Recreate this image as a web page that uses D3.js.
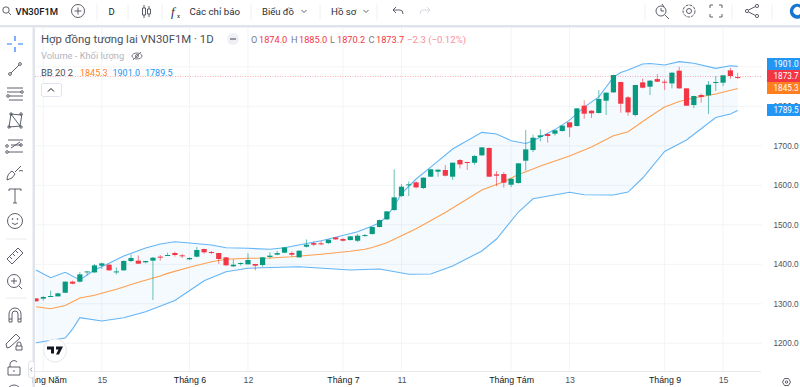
<!DOCTYPE html>
<html>
<head>
<meta charset="utf-8">
<script src="https://cdn.jsdelivr.net/npm/d3@7/dist/d3.min.js"></script>
<style>
  html, body { margin: 0; padding: 0; background: #fff; overflow: hidden; }
  svg { display: block; font-family: Roboto, "Liberation Sans", sans-serif; }
</style>
</head>
<body>
<div id="chart"></div>
<script>
// OHLC, one entry per session
const open = [1313.8,1313,1318,1318.8,1328,1356,1356,1380.4,1379.6,1396.5,1399,1380.4,1384.7,1408.3,1409.2,1405,1409.2,1419.3,1421.9,1428.6,
  1422.7,1412.6,1419.3,1438.7,1431.1,1428.6,1417.6,1394.8,1400.8,1399.9,1400.8,1398.2,1418.5,1424.5,1429.4,1428.5,1417.6,1444.6,1453.8,1453,
  1453.8,1468.2,1464,1461.4,1459.7,1472.4,1476.6,1494.4,1513.8,1537.4,1572.8,1600.7,1607.4,1593.1,1621.8,1634.5,1638.7,1621.8,1664,1659,
  1657.2,1675.8,1694.4,1627.7,1628.6,1601.5,1605.8,1662.3,1689.3,1722.2,1729.8,1730.7,1737.4,1759.4,1750.1,1801.6,1788.9,1783,1814.2,1835.3,
  1861.5,1822.7,1778,1860.6,1849.7,1869,1862.3,1858,1890.2,1845.4,1803.2,1828.6,1827.7,1859.8,1859.8,1891,1874];
const high = [1313.8,1319.7,1333.2,1328.1,1356.8,1358.5,1380.4,1382,1400.7,1404,1400.7,1392.3,1410,1425.2,1422.6,1409,1418.4,1423.5,1429.4,1432,
  1426,1417.6,1443.8,1439.6,1433.7,1428.6,1418.5,1412.6,1405,1427.8,1400.8,1418.5,1430.3,1434,1443.7,1432.7,1435.3,1463,1458,1458.9,
  1463,1469,1466.5,1471.6,1476.6,1476.6,1495.2,1512.8,1534.9,1640.4,1603,1610,1610,1620,1642,1640.4,1651.3,1658,1666.5,1659.8,
  1676.7,1696.9,1696,1636,1633.6,1617.5,1656.4,1740,1728,1741.6,1731.5,1741.6,1751.8,1760.2,1795.6,1815,1789.7,1841.2,1835.3,1880,
  1862.3,1826,1854.7,1870.8,1866.6,1881.7,1868.2,1885.9,1900.3,1846.2,1826.8,1832,1864,1876.7,1879.2,1897,1885];
const low = [1306.2,1307.9,1318,1318.8,1327.3,1349.2,1354.3,1372,1377.9,1388,1383.8,1374.5,1383.8,1405.8,1401.6,1402.4,1309.6,1409.2,1421,1419.3,
  1416,1410.9,1417.6,1426.9,1426,1400.8,1396.5,1393.2,1396.5,1399.9,1384.7,1394,1414.3,1422.6,1428.5,1419.2,1416.7,1442.9,1446.2,1448.8,
  1451.3,1462.3,1458,1460.6,1456.4,1469.9,1475.8,1493.6,1512,1535.7,1570.3,1572.8,1592.3,1590.6,1621,1621.8,1622.6,1613.4,1642.9,1638.7,
  1652.2,1675,1621,1598,1594,1595.6,1604,1637,1684,1711.3,1708,1725.6,1736.6,1722.2,1749.2,1768.6,1770.3,1782.2,1778,1834.5,
  1783.8,1776.2,1774.6,1845.4,1828.6,1861.5,1841.2,1845.4,1844.6,1800.8,1795.6,1809,1780.5,1838.7,1851.3,1869.9,1870.2];
const close = [1306.2,1317.2,1319.7,1326.4,1356,1351,1374.5,1382,1397.3,1402.4,1384.7,1382,1408.3,1415.9,1401.6,1408.3,1416.7,1417.6,1423.5,1423.5,
  1420.2,1416,1436.2,1430.3,1428.6,1413.4,1397.4,1399,1403.3,1410.9,1396.5,1417.6,1421.9,1428.5,1442.9,1424.3,1434.4,1449.6,1449.6,1451.3,
  1462.3,1463.1,1459.7,1470.7,1472.4,1474,1494.4,1512,1534,1569.5,1596.5,1602.4,1594.8,1619.3,1640.4,1639.5,1624.3,1657.2,1653,1657.2,
  1674.1,1696,1621.8,1624.3,1606.6,1616.7,1655.6,1691,1720.5,1726.5,1724.8,1739.1,1751,1746.7,1794.8,1781.3,1782.2,1818.5,1834.5,1879.2,
  1806.6,1784.7,1853.9,1847.1,1864.9,1862.3,1859.8,1885.1,1845.4,1801.6,1826,1823.5,1854.7,1861.5,1878.4,1876.7,1873.7];

// Bollinger bands, sampled where the curve bends: [session, value]
const bbUpper = [[0,1385.6],[2,1366],[4,1379.7],[6,1360.3],[8,1385.6],[10,1402.5],[12,1421],[15,1441.3],[17,1451.4],[19,1457],[21,1454],[24,1449],
  [26,1442],[29,1440.5],[32,1438],[34,1442],[37,1452.7],[39,1459.7],[41,1468.4],[44,1482.5],[46,1497],[47,1505.3],[48,1521.5],[49,1547.6],[50,1579],
  [52,1616],[54,1646],[57,1692],[61,1734],[63,1730],[65,1713],[67,1706],[68,1713],[71,1741],[73,1765],[75,1798],[77,1824],[78,1849],[79,1874],
  [80,1885.6],[81,1892],[83,1907],[84,1908.3],[86,1904.6],[88,1913],[90,1909],[93,1896],[95,1902.8],[96,1901]];
const bbMiddle = [[0,1292.7],[2,1287.6],[4,1295.7],[6,1314.7],[8,1321.5],[11,1336.7],[14,1354.4],[17,1370.4],[18,1377],[21,1392.4],[24,1406.6],[26,1412.7],
  [29,1415.2],[32,1416],[35,1419.2],[39,1425.3],[43,1432.9],[45,1438],[46,1442.5],[48,1454.7],[52,1490],[56,1531],[61,1588],[64,1609],[66,1627.3],[68,1641],
  [69,1649],[73,1674],[76,1697],[79,1725.6],[81,1735.7],[84,1774.2],[86,1798],[88,1812],[90,1821],[93,1831],[96,1845.3]];
const bbLower = [[0,1201.5],[4,1213.4],[5,1236],[6,1265],[9,1256.5],[12,1264.8],[15,1280],[19,1308.4],[23,1358.5],[26,1381.3],[29,1389.9],[32,1392],
  [36,1393.9],[43,1385.6],[47,1388],[51,1374.7],[54,1375.4],[57,1395.7],[61,1433.7],[63,1464],[66,1532.4],[68,1566],[73,1582.3],[75,1576.2],[79,1575.4],
  [81,1583],[83,1618.5],[86,1685.6],[89,1714.7],[93,1771.6],[95,1780.5],[96,1789.5]];

const tickSessions = [1, 9, 21, 29, 42, 50, 65, 73, 86, 94];
const tickLabels = ["Tháng Năm", "15", "Tháng 6", "12", "Tháng 7", "11", "Tháng Tám", "13", "Tháng 9", "15"];
const priceTicks = [1200, 1300, 1400, 1500, 1600, 1700, 1800, 1900];
const lastValues = [1901.0, 1873.7, 1845.3, 1789.5];
const lastColors = ["#2196f3", "#f23645", "#ff7f1e", "#2196f3"];

const W = 800, H = 387;
const plot = {left: 35, right: 762, top: 27, bottom: 371.5};
const up = "#089981", down = "#f23645";
// the labels push each other apart on a real price scale
const tagTops = [58, 70, 82, 104];

const svg = d3.select("#chart").append("svg").attr("width", W).attr("height", H);

const x = d3.scaleLinear().domain([0, 96]).range([36, 737.7]);
const y = d3.scaleLinear().domain([1200, 1873.7]).range([343.3, 77.2]);

svg.append("clipPath").attr("id", "plotClip").append("rect")
  .attr("x", plot.left).attr("y", plot.top)
  .attr("width", plot.right - plot.left).attr("height", plot.bottom - plot.top);

const main = svg.append("g").attr("clip-path", "url(#plotClip)");

// grid
main.append("g").selectAll("line").data(tickSessions).join("line")
  .attr("x1", d => x(d)).attr("x2", d => x(d))
  .attr("y1", plot.top).attr("y2", plot.bottom)
  .attr("stroke", "#f3f4f6");
main.append("g").selectAll("line").data(priceTicks).join("line")
  .attr("x1", plot.left).attr("x2", plot.right)
  .attr("y1", d => y(d)).attr("y2", d => y(d))
  .attr("stroke", "#f3f4f6");

// bands
const line = d3.line().x(d => x(d[0])).y(d => y(d[1]));
main.append("path")
  .attr("d", line(bbUpper.concat(bbLower.slice().reverse())) + "Z")
  .attr("fill", "#2196f3").attr("fill-opacity", 0.05);
main.append("path").attr("d", line(bbUpper)).attr("fill", "none").attr("stroke", "#64b5f6").attr("stroke-width", 1.1);
main.append("path").attr("d", line(bbLower)).attr("fill", "none").attr("stroke", "#64b5f6").attr("stroke-width", 1.1);
main.append("path").attr("d", line(bbMiddle)).attr("fill", "none").attr("stroke", "#ff9f50").attr("stroke-width", 1.1);

// candles
const candles = main.append("g").selectAll("g").data(d3.range(open.length)).join("g");
candles.append("line")
  .attr("x1", i => x(i)).attr("x2", i => x(i))
  .attr("y1", i => y(high[i])).attr("y2", i => y(low[i]))
  .attr("stroke", i => close[i] >= open[i] ? up : down)
  .attr("stroke-opacity", 0.6);
candles.append("rect")
  .attr("x", i => x(i) - 2.6).attr("width", 5.2)
  .attr("y", i => y(Math.max(open[i], close[i])))
  .attr("height", i => Math.max(1, Math.abs(y(open[i]) - y(close[i]))))
  .attr("fill", i => close[i] >= open[i] ? up : down);

// last price line
main.append("line")
  .attr("x1", plot.left).attr("x2", plot.right)
  .attr("y1", 76.5).attr("y2", 76.5)
  .attr("stroke", down).attr("stroke-opacity", 0.4).attr("stroke-dasharray", "1,1.5");

// axes
const xAxis = svg.append("g")
  .attr("transform", `translate(0,${plot.bottom})`)
  .call(d3.axisBottom(x).tickValues(tickSessions).tickSize(0).tickPadding(5)
    .tickFormat((d, i) => tickLabels[i]));
xAxis.select(".domain").attr("stroke", "#e6e8ee").attr("d", "M35,0H761");
xAxis.selectAll("text")
  .style("font-size", "8.8px")
  .style("font-weight", (d, i) => tickLabels[i].startsWith("Tháng") ? 500 : 400)
  .attr("fill", (d, i) => tickLabels[i].startsWith("Tháng") ? "#131722" : "#50535e");

const yAxis = svg.append("g")
  .attr("transform", "translate(773.5,0)")
  .call(d3.axisRight(y).tickValues(priceTicks).tickSize(0).tickPadding(0).tickFormat(d3.format(".1f")));
yAxis.select(".domain").remove();
yAxis.selectAll("text").style("font-size", "8.2px").attr("fill", "#50535e");

// price labels
const tags = svg.append("g").selectAll("g").data(lastValues).join("g")
  .attr("transform", (d, i) => `translate(767,${tagTops[i]})`);
tags.append("rect").attr("width", 33).attr("height", 12).attr("fill", (d, i) => lastColors[i]);
tags.append("text").attr("x", 6.5).attr("y", 9).attr("fill", "#fff").style("font-size", "8.2px")
  .text(d => d.toFixed(1));

// legend
const legend = svg.append("g");
function label(px, py, str, color, size, weight) {
  return legend.append("text").attr("x", px).attr("y", py).attr("fill", color)
    .style("font-size", size + "px").style("font-weight", weight || 400).text(str);
}
label(41, 43, "Hợp đồng tương lai VN30F1M · 1D", "#4a4e59", 11.35);
legend.append("circle").attr("cx", 233).attr("cy", 39).attr("r", 6).attr("fill", "#eff0f3");
legend.append("line").attr("x1", 230).attr("x2", 236).attr("y1", 39).attr("y2", 39).attr("stroke", "#787b86").attr("stroke-width", 1.5);

const ohlcText = [[251, "O", 1], [259, "1874.0", 0], [291, "H", 1], [299, "1885.0", 0], [330, "L", 1], [337, "1870.2", 0], [368.5, "C", 1], [376, "1873.7", 0], [407, "−2.3 (−0.12%)", 0]];
ohlcText.forEach(t => label(t[0], 42.5, t[1], t[2] ? "#787b86" : (t[0] === 407 ? "#f88f99" : "#f23645"), t[0] === 407 ? 9.6 : 9.2));

label(41, 59, "Volume - Khối lượng", "#b2b5be", 9.3);
const eye = legend.append("g").attr("transform", "translate(137,56)").attr("fill", "none").attr("stroke", "#787b86");
eye.append("ellipse").attr("rx", 5).attr("ry", 3);
eye.append("circle").attr("r", 1.5);
eye.append("line").attr("x1", -4).attr("y1", 4).attr("x2", 4).attr("y2", -4);

label(41, 76, "BB 20 2", "#4a4e59", 9.4);
label(80, 76, "1845.3", "#ff7f1e", 9);
label(112.5, 76, "1901.0", "#2196f3", 9);
label(145, 76, "1789.5", "#2196f3", 9);

legend.append("rect").attr("x", 41.5).attr("y", 83.5).attr("width", 20).attr("height", 13).attr("rx", 2)
  .attr("fill", "#fff").attr("stroke", "#e0e3eb");
legend.append("path").attr("d", "M48,91.5l3,-3l3,3").attr("fill", "none").attr("stroke", "#131722");

// TradingView badge
const tv = svg.append("g").attr("transform", "translate(55,350.5)");
tv.append("circle").attr("r", 11.5).attr("fill", "#fff").attr("stroke", "#e6e8ee");
tv.append("path").attr("d", "M-8,-4H-1V3H-4V-1H-8ZM1,-4H8L4,4H1L3.5,-1H1Z").attr("fill", "#131722");

// chrome around the chart
const chrome = svg.append("g");
chrome.append("rect").attr("x", 0).attr("y", 0).attr("width", W).attr("height", 25).attr("fill", "#fff");
chrome.append("rect").attr("x", 0).attr("y", 25).attr("width", W).attr("height", 2.5).attr("fill", "#e0e3eb");
chrome.append("rect").attr("x", 0).attr("y", 27.5).attr("width", 32.5).attr("height", H).attr("fill", "#fff");
chrome.append("rect").attr("x", 32.5).attr("y", 27.5).attr("width", 2.5).attr("height", H).attr("fill", "#e0e3eb");

// top toolbar
const sepX = [97, 128, 162, 251, 320, 377, 645, 732, 772];
chrome.append("g").selectAll("line").data(sepX).join("line")
  .attr("x1", d => d).attr("x2", d => d).attr("y1", 4).attr("y2", 20).attr("stroke", "#eef0f3");

function tool(px, py, str, size, weight, color) {
  return chrome.append("text").attr("x", px).attr("y", py).attr("fill", color || "#131722")
    .style("font-size", size + "px").style("font-weight", weight || 400).text(str);
}
tool(15.5, 14.5, "VN30F1M", 9.5, 500);
tool(108.5, 14.5, "D", 9.5, 400);
tool(171, 15.5, "f", 13, 400, "#2a2e39").style("font-style", "italic").style("font-family", "Liberation Serif, serif");
tool(177, 18, "x", 6, 400);
tool(189.5, 14.5, "Các chỉ báo", 9.7, 400, "#2a2e39");
tool(262, 14.5, "Biểu đồ", 9.5, 400, "#2a2e39");
tool(331, 14.5, "Hồ sơ", 9.7, 400, "#2a2e39");

const stroke = "#4a4e59";
function icon(px, py, build, color) {
  const g = chrome.append("g").attr("transform", `translate(${px},${py})`)
    .attr("fill", "none").attr("stroke", color || stroke).attr("stroke-width", 0.9);
  build(g);
  return g;
}
const P = (g, d) => g.append("path").attr("d", d);
const C = (g, cx, cy, r) => g.append("circle").attr("cx", cx).attr("cy", cy).attr("r", r);

icon(6, 10, g => { C(g, 0, 0, 3.2); P(g, "M2.4,2.4L5,5"); });
icon(78, 11, g => { C(g, 0, 0, 6.5); P(g, "M-3.5,0H3.5M0,-3.5V3.5"); });
icon(146, 11, g => { P(g, "M-3.5,-3h3v7h-3zM1.5,-2h3v5h-3zM-2,-6v3M-2,4v3M3,-5v3M3,3v3"); });
icon(304, 11, g => P(g, "M-2.5,-1l2.5,2.5l2.5,-2.5"));
icon(366, 11, g => P(g, "M-2.5,-1l2.5,2.5l2.5,-2.5"));
icon(398, 11, g => P(g, "M-5,-1H2Q5,-1 5,3M-5,-1l3,-3M-5,-1l3,3"));
icon(425, 11, g => P(g, "M5,-1H-2Q-5,-1 -5,3M5,-1l-3,-3M5,-1l-3,3"), "#d1d4dc");
icon(662, 10, g => { C(g, -1, 1, 5); P(g, "M3,5L7,9M-1,-2V1H2M0,-6l2,3"); });
icon(689, 11, g => { C(g, 0, 0, 2.5); C(g, 0, 0, 6).attr("stroke-dasharray", "3,1"); });
icon(716, 11, g => P(g, "M-6,-3V-6H-3M3,-6H6V-3M6,3V6H3M-3,6H-6V3"));
icon(752, 11, g => { C(g, 5, -5, 1.6); C(g, -5, 0, 1.6); C(g, 5, 5, 1.6); P(g, "M-3.5,-1L3.5,-4.5M-3.5,1L3.5,4.5"); });
// logo, partly cut by the right edge
chrome.append("path").attr("d", "M800,4.2A7.5,7.5 0 1 0 800,18.2V14A4,4 0 1 1 800,8Z").attr("fill", "#1677d2");

// left toolbar
icon(15, 44, g => P(g, "M-8,0H-3M3,0H8M0,-8V-3M0,3V8"), "#2979ff").attr("stroke-width", 1.2);
icon(15, 69, g => { C(g, -5, 5, 1.4); C(g, 5, -5, 1.4); P(g, "M-4,4L4,-4"); });
icon(15, 94, g => { P(g, "M-8,-6H8M-8,-2H6M-6,2H8M-6,6H8"); C(g, 7, -2, 1.3); C(g, -7, 2, 1.3); });
icon(15, 120, g => { P(g, "M-6,7L-4,-6L5,6L7,-6M-4,-6L6,-5M-6,7L6,6"); C(g, -4, -6, 1.2); C(g, 6, -6, 1.2); C(g, -6, 7, 1.2); C(g, 6, 7, 1.2); });
icon(15, 146, g => { P(g, "M-7,-6H8M-7,6H8M-4,-1H6M-4,2l9,-6"); C(g, -8, 0, 1.3); C(g, -8, 6, 1.3); C(g, 6, -1, 1.3); });
icon(15, 173, g => P(g, "M-8,7Q-8,1 -3,-2L0,1Q-2,6 -8,7ZM0,-1L6,-7M4,-2Q6,-3 8,-2"));
icon(15, 196, g => P(g, "M-6,-5V-7H6V-5M0,-7V7M-2,7H2"));
icon(15, 221, g => { C(g, 0, 0, 7.5); P(g, "M-3,2Q0,5 3,2"); C(g, -2.5, -2, 0.5); C(g, 2.5, -2, 0.5); });
chrome.append("line").attr("x1", 6).attr("x2", 27).attr("y1", 239).attr("y2", 239).attr("stroke", "#e9ebf0");
icon(15, 256, g => P(g, "M-8,3L3,-8L8,-3L-3,8ZM-5,1l2,2M-2,-2l2,2M1,-5l2,2"));
icon(14, 281, g => { C(g, 0, 0, 6.5); P(g, "M5,5L8,8M-3,0H3M0,-3V3"); });
chrome.append("line").attr("x1", 6).attr("x2", 27).attr("y1", 298).attr("y2", 298).attr("stroke", "#e9ebf0");
icon(15, 315, g => P(g, "M-6,7V-1A6,6 0 0 1 6,-1V7H3V-1A3,3 0 0 0 -3,-1V7ZM-6,4H-3M3,4H6"));
icon(13, 341, g => P(g, "M-6,7L-7,3L3,-7L7,-3L-3,6Z"));
icon(19, 346, g => P(g, "M-2,0V-2A2,2 0 0 1 2,-2V0M-3,0H3V4H-3Z"));
icon(14, 368, g => P(g, "M-6,-1H6V7H-6ZM-4,-1V-4A4,4 0 0 1 3,-6M0,2V4"));
icon(14, 392, g => C(g, 0, 0, 7));

chrome.append("rect").attr("x", 28.5).attr("y", 361).attr("width", 6).attr("height", 17).attr("rx", 3)
  .attr("fill", "#fff").attr("stroke", "#e0e3eb");
chrome.append("path").attr("d", "M32,367.5l-1.5,2l1.5,2").attr("fill", "none").attr("stroke", "#9598a1");

// axis settings icon
icon(786.5, 382, g => { C(g, 0, 0, 1.2); P(g, "M-4,0L-2,-3.5H2L4,0L2,3.5H-2Z"); });
</script>
</body>
</html>
